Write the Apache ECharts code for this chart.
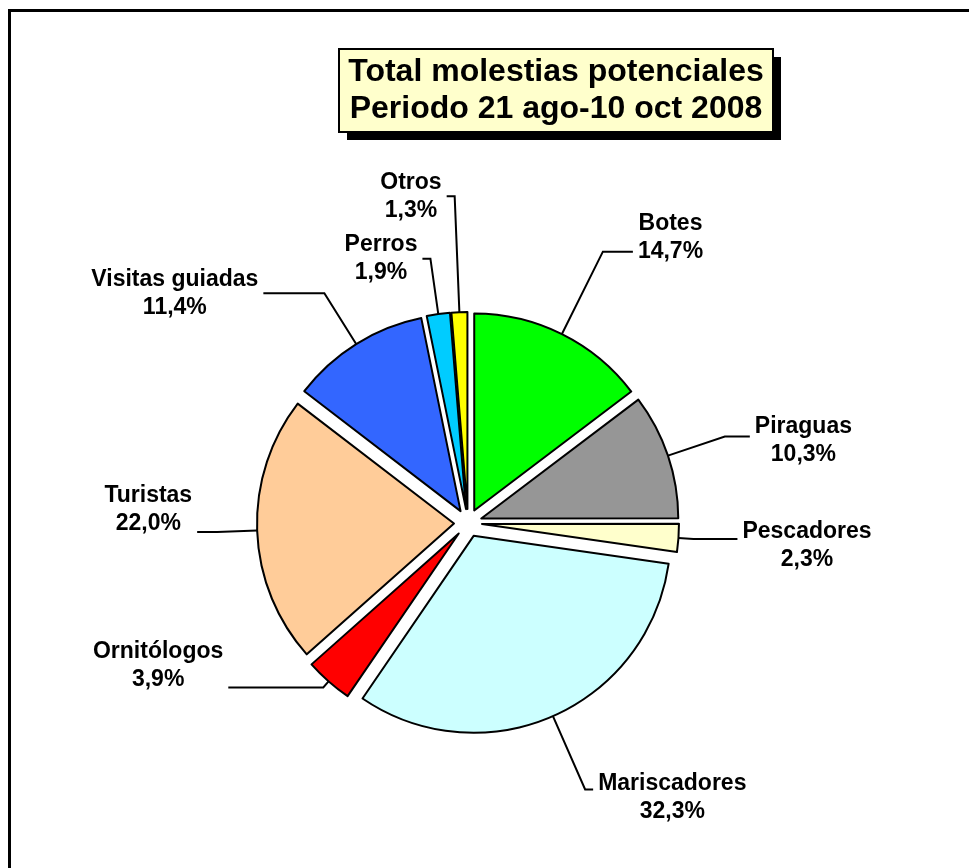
<!DOCTYPE html>
<html>
<head>
<meta charset="utf-8">
<script src="https://cdn.jsdelivr.net/npm/echarts@6/dist/echarts.min.js"></script>
<style>
  html, body { margin: 0; padding: 0; background: #fff; }
  #chart { width: 969px; height: 868px; }
</style>
</head>
<body>
<div id="chart"></div>
<script>
// Total molestias potenciales, periodo 21 ago - 10 oct 2008
const categories = ["Botes", "Piraguas", "Pescadores", "Mariscadores", "Ornitólogos",
  "Turistas", "Visitas guiadas", "Perros", "Otros"];
const values = [14.7, 10.3, 2.3, 32.3, 3.9, 22.0, 11.4, 1.9, 1.3];
const colors = ["#00ff00", "#969696", "#ffffcc", "#ccffff", "#ff0000",
  "#ffcc99", "#3366ff", "#00ccff", "#ffff00"];
// leader line lengths per slice [radial, horizontal]
const lineLen = [[92, 30], [60, 25], [15, 44], [80, 8], [8, 95], [40, 20], [60, 61], [56, 8], [116, 8]];
// extra label padding so the text sits above/below where its line ends
const labelPad = [[0, 0, 28, 0], [8, 0, 0, 0], [14, 0, 0, 0], [16, 0, 0, 0], [0, 0, 44, 0],
  [0, 0, 44, 0], [0, 0, 0, 0], [0, 0, 0, 0], [0, 0, 0, 0]];

const chart = echarts.init(document.getElementById("chart"));
const font = "'Liberation Sans', Arial, sans-serif";
const labelText = { fontFamily: font, fontWeight: "bold", fontSize: 23, lineHeight: 28, color: "#000" };

const option = {
  animation: false,
  graphic: [
    {
      type: "rect",
      shape: { x: 9.5, y: 10.5, width: 1000, height: 1000 },
      style: { fill: null, stroke: "#000", lineWidth: 3 },
      silent: true,
    },
    {
      // title box with drop shadow
      type: "group",
      left: 338,
      top: 48,
      children: [
        {
          type: "rect",
          shape: { x: 8, y: 8, width: 434, height: 83 },
          style: { fill: "#000" },
        },
        {
          type: "rect",
          shape: { x: 0, y: 0, width: 434, height: 83 },
          style: { fill: "#ffffcc", stroke: "#000", lineWidth: 2 },
        },
        {
          type: "text",
          x: 217,
          y: 42,
          style: {
            text: "Total molestias potenciales\nPeriodo 21 ago-10 oct 2008",
            font: "bold 32px " + font,
            lineHeight: 37,
            fill: "#000",
            align: "center",
            verticalAlign: "middle",
          },
        },
      ],
    },
  ],
  series: [
    {
      type: "pie",
      center: [468, 523],
      radius: 197,
      startAngle: 90,
      clockwise: true,
      selectedMode: "multiple",
      selectedOffset: 14,
      avoidLabelOverlap: false,
      emphasis: { disabled: true },
      itemStyle: { borderColor: "#000", borderWidth: 2 },
      select: { itemStyle: { borderColor: "#000", borderWidth: 2 } },
      label: Object.assign({
        formatter: (p) => "{c|" + p.name + "}\n{c|" + p.value.toFixed(1).replace(".", ",") + "%}",
        rich: { c: Object.assign({ align: "center" }, labelText) },
      }, labelText),
      labelLine: { lineStyle: { color: "#000", width: 2 } },
      data: categories.map((name, i) => ({
        name: name,
        value: values[i],
        selected: true,
        itemStyle: { color: colors[i] },
        label: { padding: labelPad[i] },
        labelLine: { length: lineLen[i][0], length2: lineLen[i][1] },
      })),
    },
  ],
};

chart.setOption(option);
window.addEventListener("resize", () => chart.resize());
</script>
</body>
</html>
